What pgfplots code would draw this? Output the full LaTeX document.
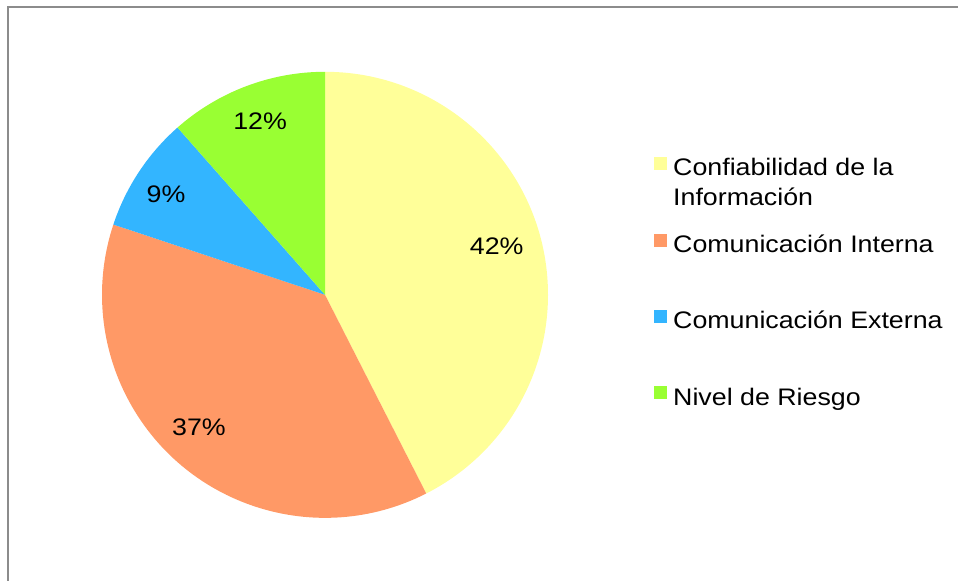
\documentclass[border=0pt]{standalone}
\usepackage{fontspec}
\setmainfont{Liberation Sans}[FakeStretch=1.12]
\usepackage{pgfplots}
\pgfplotsset{compat=1.18}
\definecolor{pieyellow}{HTML}{FFFF99}
\definecolor{pieorange}{HTML}{FF9966}
\definecolor{pieblue}{HTML}{33B5FF}
\definecolor{piegreen}{HTML}{99FF33}
\definecolor{framegray}{HTML}{8C8C8C}
\newcommand\lfont{\fontsize{24}{30}\selectfont}
\begin{document}
\begin{tikzpicture}
\path[use as bounding box] (0,0) rectangle (958bp,581bp);
\draw[framegray, line width=1.8bp] (8bp,0) -- (8bp,574bp) -- (958bp,574bp);
\begin{axis}[at={(325bp,286.2bp)}, anchor=origin, scale only axis,
  width=446bp, height=446bp, xmin=-1, xmax=1, ymin=-1, ymax=1,
  hide axis, clip=false,
  legend style={at={(axis cs:1.4753,0.628)}, anchor=north west, draw=none, fill=none,
    inner sep=0pt, font=\lfont, row sep=54bp, column sep=6bp, nodes={inner sep=0pt}},
  legend cell align=left,
  legend image code/.code={\fill[#1] (0bp,-4bp) rectangle (13bp,9bp);}]
\pgfplotsextra{%
  \gdef\cur{90}%
  \foreach \v/\c in {42.5/pieyellow,37.6/pieorange,8.4/pieblue,11.5/piegreen}{%
    \pgfmathsetmacro\nxt{\cur-3.6*\v}%
    \fill[\c] (axis cs:0,0) -- ++(\cur:223bp) arc[start angle=\cur, end angle=\nxt, radius=223bp] -- cycle;
    \global\let\cur\nxt
  }%
}
\addlegendimage{fill=pieyellow, draw=none}
\addlegendentry{\raisebox{0pt}[\ht\strutbox][\dp\strutbox]{\parbox[t]{10cm}{\strut Confiabilidad de la\\\strut Información}}}
\addlegendimage{fill=pieorange, draw=none}
\addlegendentry{\strut Comunicación Interna}
\addlegendimage{fill=pieblue, draw=none}
\addlegendentry{\strut Comunicación Externa}
\addlegendimage{fill=piegreen, draw=none}
\addlegendentry{\strut Nivel de Riesgo}
\node[font=\lfont] at (axis cs:0.770,0.217) {42\%};
\node[font=\lfont] at (axis cs:-0.565,-0.596) {37\%};
\node[font=\lfont] at (axis cs:-0.713,0.453) {9\%};
\node[font=\lfont] at (axis cs:-0.291,0.779) {12\%};
\end{axis}
\end{tikzpicture}
\end{document}
